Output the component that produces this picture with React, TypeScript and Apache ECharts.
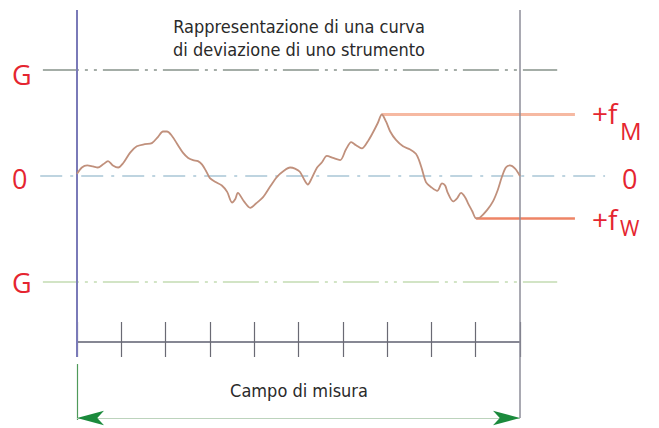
import React, { useEffect, useRef } from "react";
import * as echarts from "echarts";

// ---- data ----
const curveX = [
  0, 0.11, 0.23, 0.36, 0.47, 0.59, 0.7, 0.81, 0.93, 1.04, 1.2, 1.35, 1.53, 1.69, 1.83, 1.94, 2.03, 2.14,
  2.28, 2.39, 2.51, 2.62, 2.73, 2.82, 2.91, 3.0, 3.14, 3.27, 3.39, 3.5, 3.57, 3.63, 3.77, 3.91, 4.04, 4.2,
  4.36, 4.51, 4.67, 4.81, 4.92, 5.03, 5.15, 5.21, 5.3, 5.42, 5.53, 5.64, 5.78, 5.94, 6.07, 6.19, 6.3, 6.43,
  6.57, 6.68, 6.79, 6.88, 6.98, 7.07, 7.2, 7.36, 7.52, 7.65, 7.72, 7.79, 7.88, 8.01, 8.13, 8.24, 8.31, 8.37,
  8.49, 8.58, 8.67, 8.76, 8.83, 8.92, 9.01, 9.1, 9.26, 9.39, 9.5, 9.59, 9.68, 9.77, 9.89, 10,
];
const curveY = [
  0.02, 0.08, 0.1, 0.09, 0.08, 0.11, 0.14, 0.1, 0.08, 0.12, 0.22, 0.28, 0.3, 0.31, 0.37, 0.42, 0.42, 0.38,
  0.29, 0.22, 0.17, 0.15, 0.14, 0.11, 0.05, -0.02, -0.06, -0.09, -0.15, -0.25, -0.22, -0.16, -0.24, -0.3, -0.26, -0.2,
  -0.1, -0.01, 0.05, 0.08, 0.07, 0.04, -0.05, -0.08, -0.02, 0.08, 0.13, 0.19, 0.17, 0.15, 0.25, 0.32, 0.29, 0.26,
  0.33, 0.41, 0.5, 0.58, 0.51, 0.42, 0.34, 0.28, 0.25, 0.21, 0.15, 0.06, -0.06, -0.11, -0.14, -0.07, -0.09, -0.16,
  -0.24, -0.21, -0.16, -0.2, -0.26, -0.33, -0.4, -0.39, -0.32, -0.24, -0.13, -0.01, 0.08, 0.1, 0.07, 0,
];
const gLimit = 1; // tolerance G (upper +G, lower -G)
const zeroLevel = 0;
const rangeStart = 0;
const rangeEnd = 10; // campo di misura, 10 divisions
const tickStep = 1;
const titleLines = ["Rappresentazione di una curva", "di deviazione di uno strumento"];
const rangeCaption = "Campo di misura";
const leftLabels = ["G", "0", "G"];
const rightZeroLabel = "0";
const fMLabel = ["+f", "M"];
const fWLabel = ["+f", "W"];

// ---- layout (canvas-wide coordinate frame) ----
const X_MIN = -77 / 44.3;
const X_MAX = 582 / 44.3;
const Y_MAX = 176 / 106;
const Y_MIN = -252 / 106;

const RED = "#e52530";
const TEXT_FONT = "'Liberation Sans Narrow', 'DejaVu Sans Condensed', sans-serif";
const LABEL_FONT = "'Open Sans', 'Noto Sans', sans-serif";

function buildOption() {
  const data = curveX.map((x, i) => [x, curveY[i]]);
  const fM = Math.max(...curveY);
  const fW = Math.min(...curveY);
  const fMx = curveX[curveY.indexOf(fM)];
  const fWx = curveX[curveY.indexOf(fW)];
  const refEnd = 11.24;

  const seg = (a: number[], b: number[], lineStyle: any, extra: any = {}) => [
    { coord: a, lineStyle, ...extra },
    { coord: b, ...extra },
  ];

  const markData = [
    seg([-0.77, gLimit], [10.84, gLimit], { color: "#87928a", width: 1.5, type: [36, 6, 3, 6, 3, 6] }),
    seg([-0.83, zeroLevel], [11.92, zeroLevel], { color: "#a9c6d6", width: 1.5, type: [22, 8, 3, 8] }),
    seg([-0.77, -gLimit], [10.84, -gLimit], { color: "#c3dcb2", width: 1.5, type: [36, 6, 3, 6, 3, 6] }),
    seg([fMx, fM], [refEnd, fM], { color: "#f6b9a2", width: 3, type: "solid" }),
    seg([fWx, fW], [refEnd, fW], { color: "#ee8466", width: 2.5, type: "solid" }),
    seg([rangeStart, 1.566], [rangeStart, -1.708], { color: "#7a7ab8", width: 2, type: "solid" }),
    seg([rangeStart, -1.774], [rangeStart, -2.302], { color: "#4f9a5a", width: 1.2, type: "solid" }),
    seg([rangeEnd, 1.566], [rangeEnd, -2.283], { color: "#8c8c98", width: 1.5, type: "solid" }),
    seg([rangeStart, -2.283], [rangeEnd, -2.283], { color: "#bcd3bc", width: 1.2, type: "solid" }),
    seg(
      [rangeStart, -2.283],
      [rangeEnd, -2.283],
      { color: "#1b8a3c", width: 0, type: "solid" },
      { symbol: "arrow", symbolSize: [11, 27] }
    ),
  ];

  const t = (text: string, x: number, y: number, size: number, fill: string, family: string, align = "left") => ({
    type: "text",
    x,
    y,
    silent: true,
    style: { text, fill, fontSize: size, fontFamily: family, align, verticalAlign: "middle" },
  });

  const axisCommon = {
    gridIndex: 1,
    type: "value",
    min: rangeStart,
    max: rangeEnd,
    interval: tickStep,
    position: "bottom",
    axisLabel: { show: false },
    splitLine: { show: false },
  };

  return {
    animation: false,
    backgroundColor: "#ffffff",
    grid: [
      { left: 0, right: 0, top: 0, bottom: 0 },
      { left: 77, right: 139, top: 10, bottom: 86 },
    ],
    xAxis: [
      { gridIndex: 0, type: "value", min: X_MIN, max: X_MAX, show: false },
      {
        ...axisCommon,
        axisLine: { show: true, onZero: false, lineStyle: { color: "#5f6070", width: 1.5 } },
        axisTick: { show: true, inside: true, length: 20, lineStyle: { color: "#6a6a74", width: 1.2 } },
      },
      {
        ...axisCommon,
        axisLine: { show: false, onZero: false },
        axisTick: { show: true, inside: false, length: 15, lineStyle: { color: "#6a6a74", width: 1.2 } },
      },
    ],
    yAxis: [
      { gridIndex: 0, type: "value", min: Y_MIN, max: Y_MAX, show: false },
      { gridIndex: 1, type: "value", min: -1, max: 1, show: false },
    ],
    series: [
      {
        type: "line",
        xAxisIndex: 0,
        yAxisIndex: 0,
        data,
        smooth: 0.3,
        showSymbol: false,
        clip: false,
        z: 5,
        lineStyle: { color: "#c0907c", width: 1.8 },
        markLine: {
          silent: true,
          symbol: "none",
          animation: false,
          label: { show: false },
          data: markData,
        },
      },
    ],
    graphic: [
      t(titleLines[0], 299, 26, 18, "#2a2a2a", TEXT_FONT, "center"),
      t(titleLines[1], 299, 49, 18, "#2a2a2a", TEXT_FONT, "center"),
      t(rangeCaption, 299, 390, 18, "#2a2a2a", TEXT_FONT, "center"),
      t(leftLabels[0], 12, 74, 27, RED, LABEL_FONT),
      t(leftLabels[1], 12, 178, 27, RED, LABEL_FONT),
      t(leftLabels[2], 12, 282, 27, RED, LABEL_FONT),
      t(rightZeroLabel, 622, 178, 27, RED, LABEL_FONT),
      t(fMLabel[0], 592, 113, 28, RED, LABEL_FONT),
      t(fMLabel[1], 620, 130, 24, RED, LABEL_FONT),
      t(fWLabel[0], 592, 219, 28, RED, LABEL_FONT),
      t(fWLabel[1], 620, 228, 21, RED, LABEL_FONT),
    ],
  };
}

export default function App() {
  const ref = useRef<HTMLDivElement>(null);
  useEffect(() => {
    if (!ref.current) return;
    const chart = echarts.init(ref.current, null, { renderer: "svg" });
    chart.setOption(buildOption() as any);
    return () => chart.dispose();
  }, []);
  return <div ref={ref} style={{ position: "fixed", left: 0, top: 0, width: 659, height: 428 }} />;
}
